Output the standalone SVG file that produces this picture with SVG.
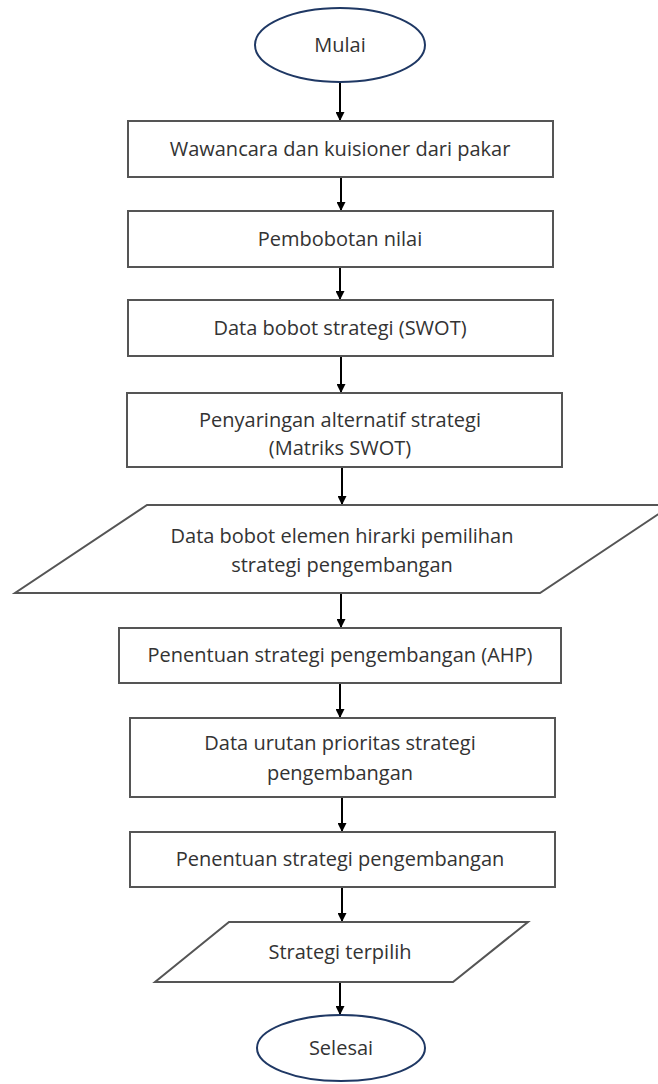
<svg xmlns="http://www.w3.org/2000/svg" width="658" height="1084" viewBox="0 0 658 1084">
<defs>
<marker id="ah" viewBox="0 0 10 10" refX="10" refY="5" markerWidth="5" markerHeight="4.5" orient="auto" markerUnits="strokeWidth">
<path d="M0,0 L10,5 L0,10 z" fill="#000"/>
</marker>
<style>
.box{fill:#fff;stroke:#555;stroke-width:2}
.term{fill:#fff;stroke:#1f3864;stroke-width:2}
.t{font-family:"Open Sans","Noto Sans",sans-serif;font-size:20px;fill:#333;text-anchor:middle}
.c{stroke:#000;stroke-width:2;fill:none;marker-end:url(#ah)}
</style>
</defs>
<rect width="658" height="1084" fill="#fff"/>
<g id="connectors">
<line class="c" x1="340" y1="82" x2="340" y2="121"/>
<line class="c" x1="341" y1="177" x2="341" y2="211"/>
<line class="c" x1="340" y1="267" x2="340" y2="300"/>
<line class="c" x1="341" y1="356" x2="341" y2="393"/>
<line class="c" x1="342" y1="467" x2="342" y2="505"/>
<line class="c" x1="341" y1="593" x2="341" y2="628"/>
<line class="c" x1="340" y1="683" x2="340" y2="718"/>
<line class="c" x1="342" y1="797" x2="342" y2="832"/>
<line class="c" x1="342" y1="887" x2="342" y2="922"/>
<line class="c" x1="340" y1="982" x2="340" y2="1015"/>
</g>
<g id="mulai">
<ellipse class="term" cx="340" cy="45" rx="85" ry="37"/>
<text class="t" x="340" y="52">Mulai</text>
</g>
<g id="wawancara">
<rect class="box" x="128" y="121" width="425" height="56"/>
<text class="t" x="340" y="156">Wawancara dan kuisioner dari pakar</text>
</g>
<g id="pembobotan">
<rect class="box" x="128" y="211" width="425" height="56"/>
<text class="t" x="340" y="246">Pembobotan nilai</text>
</g>
<g id="databobot">
<rect class="box" x="128" y="300" width="425" height="56"/>
<text class="t" x="340" y="335">Data bobot strategi (SWOT)</text>
</g>
<g id="penyaringan">
<rect class="box" x="127" y="393" width="435" height="74"/>
<text class="t" x="340" y="427">Penyaringan alternatif strategi</text>
<text class="t" x="340" y="455">(Matriks SWOT)</text>
</g>
<g id="databobotelemen">
<polygon class="box" points="147,505 672,505 540,593 15,593"/>
<text class="t" x="342" y="543">Data bobot elemen hirarki pemilihan</text>
<text class="t" x="342" y="572">strategi pengembangan</text>
</g>
<g id="ahp">
<rect class="box" x="119" y="628" width="442" height="55"/>
<text class="t" x="340" y="662">Penentuan strategi pengembangan (AHP)</text>
</g>
<g id="dataurutan">
<rect class="box" x="130" y="718" width="425" height="79"/>
<text class="t" x="340" y="750">Data urutan prioritas strategi</text>
<text class="t" x="340" y="780">pengembangan</text>
</g>
<g id="penentuan">
<rect class="box" x="130" y="832" width="425" height="55"/>
<text class="t" x="340" y="866">Penentuan strategi pengembangan</text>
</g>
<g id="strategiterpilih">
<polygon class="box" points="229,922 528,922 453,982 155,982"/>
<text class="t" x="340" y="959">Strategi terpilih</text>
</g>
<g id="selesai">
<ellipse class="term" cx="341" cy="1048" rx="84" ry="33"/>
<text class="t" x="341" y="1055">Selesai</text>
</g>
</svg>
